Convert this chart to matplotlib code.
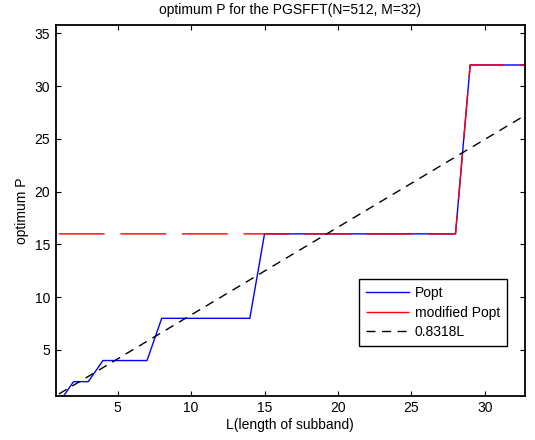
import numpy as np
import matplotlib
matplotlib.use("Agg")
import matplotlib.pyplot as plt

plt.rcParams['font.family'] = ['Liberation Sans', 'DejaVu Sans']

# subband length L and the optimum P values
L = np.arange(1, 34)
popt = [0, 2, 2, 4, 4, 4, 4, 8, 8, 8, 8, 8, 8, 8,
        16, 16, 16, 16, 16, 16, 16, 16, 16, 16, 16, 16, 16, 16,
        32, 32, 32, 32, 32]
popt_mod = [16] * 28 + [32] * 5
coef = 0.8318

fig = plt.figure(figsize=(5.35, 4.4), dpi=100)
ax = fig.add_axes([0.104, 0.1007, 0.877, 0.8425])

ax.plot(L, popt, color='blue', lw=1.0, label='Popt')
ax.plot(L, popt_mod, color='red', lw=1.0, dashes=(33, 11.3), label='modified Popt')
ax.plot(L, coef * L, color='black', lw=1.0, dashes=(6.5, 4.7), label='0.8318L')

ax.set_xlim(0.78, 32.72)
ax.set_ylim(0.67, 35.79)
ax.set_xticks([5, 10, 15, 20, 25, 30])
ax.set_yticks([5, 10, 15, 20, 25, 30, 35])
ax.tick_params(direction='in', length=3.5, width=0.8, top=True, right=True,
               labelsize=10, pad=4)
for s in ax.spines.values():
    s.set_linewidth(1.3)

ax.set_title('optimum P for the PGSFFT(N=512, M=32)', fontsize=10, pad=8)
ax.set_xlabel('L(length of subband)', fontsize=10, labelpad=2)
ax.set_ylabel('optimum P', fontsize=10, labelpad=4)

leg = ax.legend(loc='lower right', bbox_to_anchor=(0.962, 0.134), fontsize=10,
                fancybox=False, framealpha=1, edgecolor='black',
                handlelength=3.1, borderpad=0.5, labelspacing=0.4,
                handletextpad=0.4, borderaxespad=0)
leg.get_frame().set_linewidth(1.0)

fig.savefig('out.png', dpi=100)
